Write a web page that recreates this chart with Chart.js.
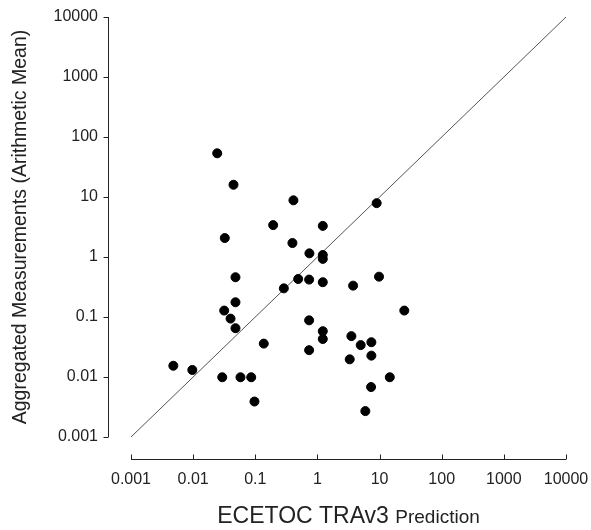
<!DOCTYPE html>
<html>
<head>
<meta charset="utf-8">
<script src="https://cdn.jsdelivr.net/npm/chart.js@4"></script>
<style>
  html, body { margin: 0; padding: 0; background: #fff; }
  #wrap { width: 591px; height: 530px; }
</style>
</head>
<body>
<div id="wrap"><canvas id="scatterGraph"></canvas></div>
<script>
// tick values / labels (both axes are the same decades)
const tickVals = [0.001, 0.01, 0.1, 1, 10, 100, 1000, 10000];
const tickLabels = ['0.001', '0.01', '0.1', '1', '10', '100', '1000', '10000'];

// TRAv3 prediction (x) vs aggregated measurement (y)
const predicted = [0.0048, 0.0097, 0.0244, 0.0294, 0.0323, 0.0316, 0.040, 0.0446, 0.048, 0.048,
  0.048, 0.0578, 0.086, 0.097, 0.137, 0.194, 0.288, 0.396, 0.411, 0.49,
  0.735, 0.743, 0.735, 0.735, 1.22, 1.22, 1.22, 1.22, 1.22, 1.22,
  3.52, 3.31, 3.75, 4.97, 5.9, 7.38, 7.38, 7.3, 8.98, 9.8, 14.6, 25];
const measured = [0.0154, 0.0131, 53.5, 0.0099, 2.07, 0.128, 0.094, 16, 0.46, 0.176,
  0.065, 0.0099, 0.0099, 0.0039, 0.036, 3.4, 0.30, 1.71, 8.8, 0.43,
  0.42, 1.15, 0.088, 0.028, 3.3, 1.08, 0.93, 0.38, 0.058, 0.043,
  0.048, 0.0197, 0.333, 0.034, 0.0027, 0.038, 0.0227, 0.0068, 7.9, 0.47, 0.0099, 0.128];

// 1:1 line
const lineX = [0.001, 10000];
const lineY = [0.001, 10000];

const FONT = 'Liberation Sans, Arial, sans-serif';

// detached SigmaPlot style axes + mixed size x title
const axesPlugin = {
  id: 'axesPlugin',
  afterDraw(chart) {
    const { ctx, scales } = chart;
    const xs = scales.x, ys = scales.y;
    ctx.save();
    ctx.strokeStyle = '#222';
    ctx.lineWidth = 1;
    // y axis
    const yx = 108.5;
    ctx.beginPath();
    ctx.moveTo(yx, ys.getPixelForValue(10000));
    ctx.lineTo(yx, ys.getPixelForValue(0.001));
    tickVals.forEach(v => {
      const p = Math.round(ys.getPixelForValue(v)) + 0.5;
      ctx.moveTo(yx, p);
      ctx.lineTo(yx - 5, p);
    });
    // x axis
    const xy = 459.5;
    ctx.moveTo(xs.getPixelForValue(0.001), xy);
    ctx.lineTo(xs.getPixelForValue(10000), xy);
    tickVals.forEach(v => {
      const p = Math.round(xs.getPixelForValue(v)) + 0.5;
      ctx.moveTo(p, xy);
      ctx.lineTo(p, xy - 5);
    });
    ctx.stroke();

    // x title
    const part1 = 'ECETOC TRAv3 ', part2 = 'Prediction';
    ctx.fillStyle = '#222';
    ctx.textBaseline = 'alphabetic';
    ctx.font = '23px ' + FONT;
    const w1 = ctx.measureText(part1).width;
    ctx.font = '19px ' + FONT;
    const w2 = ctx.measureText(part2).width;
    const cx = (xs.left + xs.right) / 2;
    let x0 = cx - (w1 + w2) / 2;
    ctx.font = '23px ' + FONT;
    ctx.fillText(part1, x0, 523);
    ctx.font = '19px ' + FONT;
    ctx.fillText(part2, x0 + w1, 523);
    ctx.restore();
  }
};

const ctxScatter = document.getElementById('scatterGraph');

new Chart(ctxScatter, {
  type: 'scatter',
  data: {
    datasets: [{
      type: 'line',
      data: lineX.map((x, i) => ({ x: x, y: lineY[i] })),
      borderColor: '#555',
      borderWidth: 1,
      pointRadius: 0,
      fill: false,
      order: 2
    }, {
      data: predicted.map((x, i) => ({ x: x, y: measured[i] })),
      backgroundColor: '#000',
      borderColor: '#000',
      pointRadius: 4.5,
      pointHoverRadius: 4.5,
      order: 1
    }]
  },
  options: {
    responsive: true,
    maintainAspectRatio: false,
    animation: false,
    layout: { padding: { top: 17, right: 25, left: 0, bottom: 0 } },
    plugins: {
      legend: { display: false },
      tooltip: { enabled: false }
    },
    scales: {
      x: {
        type: 'logarithmic',
        min: 0.001,
        max: 10000,
        grid: { display: false, drawTicks: false },
        border: { display: false },
        afterBuildTicks: s => { s.ticks = tickVals.map(v => ({ value: v })); },
        afterFit: s => { s.height = 93; s.paddingLeft = 0; s.paddingRight = 0; },
        ticks: {
          autoSkip: false,
          maxRotation: 0,
          padding: 33,
          color: '#222',
          font: { family: FONT, size: 16 },
          callback: (v) => tickLabels[tickVals.indexOf(v)]
        }
      },
      y: {
        type: 'logarithmic',
        min: 0.001,
        max: 10000,
        grid: { display: false, drawTicks: false },
        border: { display: false },
        afterBuildTicks: s => { s.ticks = tickVals.map(v => ({ value: v })); },
        afterFit: s => { s.width = 131; s.paddingTop = 0; s.paddingBottom = 0; },
        ticks: {
          autoSkip: false,
          padding: 33,
          color: '#222',
          font: { family: FONT, size: 16 },
          callback: (v) => tickLabels[tickVals.indexOf(v)]
        },
        title: {
          display: true,
          text: 'Aggregated Measurements (Arithmetic Mean)',
          color: '#222',
          font: { family: FONT, size: 19.5 },
          padding: { top: 9, bottom: 0 }
        }
      }
    }
  },
  plugins: [axesPlugin]
});
</script>
</body>
</html>
